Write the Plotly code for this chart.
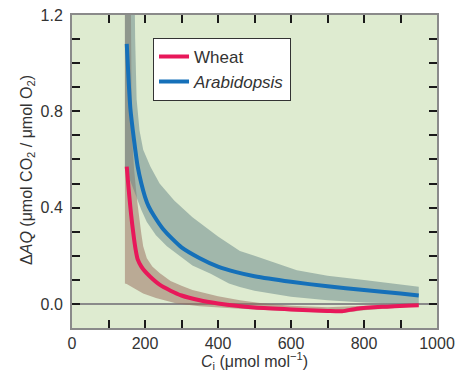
import plotly.graph_objects as go

# ---- data ----
wheat_ci = [150, 155, 160, 165, 170, 175, 180, 190, 200, 215, 240, 270, 300, 350, 400,
            450, 500, 600, 700, 740, 780, 850, 950]
wheat_dq = [0.57, 0.48, 0.40, 0.33, 0.27, 0.22, 0.185, 0.155, 0.135, 0.112, 0.08, 0.055,
            0.035, 0.015, 0.002, -0.008, -0.015, -0.023, -0.029, -0.03, -0.02, -0.012, -0.005]

arab_ci = [150, 155, 160, 170, 180, 190, 200, 210, 225, 250, 275, 300, 350, 400, 450,
           500, 600, 700, 800, 900, 950]
arab_dq = [1.08, 0.93, 0.81, 0.68, 0.57, 0.50, 0.445, 0.405, 0.365, 0.31, 0.27, 0.235,
           0.19, 0.155, 0.132, 0.115, 0.092, 0.073, 0.058, 0.043, 0.035]

wheat_band_up_ci = [145, 160, 163, 166, 170, 175, 180, 185, 190, 195, 205, 220, 240, 270,
                    300, 330, 400, 460, 520, 600, 700, 800, 950]
wheat_band_up = [1.5, 1.5, 0.9, 0.66, 0.56, 0.48, 0.41, 0.35, 0.29, 0.24, 0.19, 0.155,
                 0.128, 0.095, 0.075, 0.058, 0.032, 0.015, 0.003, -0.008, -0.014, -0.008, -0.001]
wheat_band_lo_ci = [145, 150, 170, 195, 230, 287, 350, 460, 600, 700, 740, 800, 950]
wheat_band_lo = [0.085, 0.083, 0.065, 0.043, 0.025, 0.002, -0.01, -0.02, -0.03, -0.037,
                 -0.038, -0.026, -0.01]

arab_band_up_ci = [145, 170, 173, 177, 185, 195, 215, 240, 280, 330, 400, 460, 500, 616,
                   700, 800, 950]
arab_band_up = [1.5, 1.5, 1.1, 0.85, 0.72, 0.64, 0.57, 0.50, 0.43, 0.36, 0.28, 0.22, 0.2,
                0.14, 0.117, 0.099, 0.071]
arab_band_lo_ci = [145, 155, 165, 175, 190, 205, 230, 260, 290, 330, 380, 430, 460, 500,
                   600, 700, 800, 950]
arab_band_lo = [0.56, 0.53, 0.49, 0.45, 0.39, 0.34, 0.285, 0.24, 0.205, 0.16, 0.125, 0.085,
                0.07, 0.055, 0.03, 0.015, 0.006, 0.0]

series_names = ["Wheat", "<i>Arabidopsis</i>"]
x_title = "<i>C</i><sub>i</sub> (μmol mol<sup>−1</sup>)"
y_title = "Δ<i>AQ</i> (μmol CO<sub>2</sub> / μmol O<sub>2</sub>)"

# ---- styles ----
BG = "#deebd0"
RED = "#e8185a"
BLUE = "#1570b9"
WHEAT_FILL = "rgba(150,105,90,0.50)"
ARAB_FILL = "rgba(100,132,134,0.50)"
TXT = "#333333"

fig = go.Figure()


def band(x_up, y_up, x_lo, y_lo, color):
    xs = list(x_up) + list(reversed(x_lo))
    ys = list(y_up) + list(reversed(y_lo))
    return go.Scatter(x=xs, y=ys, fill="toself", fillcolor=color, mode="none",
                      line=dict(width=0), showlegend=False, hoverinfo="skip")


fig.add_trace(band(wheat_band_up_ci, wheat_band_up, wheat_band_lo_ci, wheat_band_lo, WHEAT_FILL))
fig.add_trace(band(arab_band_up_ci, arab_band_up, arab_band_lo_ci, arab_band_lo, ARAB_FILL))

fig.add_trace(go.Scatter(x=wheat_ci, y=wheat_dq, mode="lines", name=series_names[0],
                         line=dict(color=RED, width=4, shape="spline", smoothing=0.6)))
fig.add_trace(go.Scatter(x=arab_ci, y=arab_dq, mode="lines", name=series_names[1],
                         line=dict(color=BLUE, width=4, shape="spline", smoothing=0.6)))

axis_common = dict(
    ticks="inside", ticklen=8, tickwidth=2, tickcolor="#1a1a1a",
    showline=True, linecolor="#8a8a8a", linewidth=2, mirror="ticks",
    showgrid=False,
    tickfont=dict(size=16, color=TXT),
)

fig.update_xaxes(
    range=[0, 1000], tick0=0, dtick=200, zeroline=False,
    minor=dict(dtick=100, tick0=0, ticks="inside", ticklen=8, tickwidth=2, tickcolor="#1a1a1a"),
    title=dict(text=x_title, font=dict(size=16, color=TXT), standoff=4),
    **axis_common,
)
fig.update_yaxes(
    range=[-0.1, 1.2], tick0=0, dtick=0.4, tickformat=".1f",
    zeroline=True, zerolinecolor="#8a8a8a", zerolinewidth=2,
    minor=dict(dtick=0.1, tick0=0, ticks="inside", ticklen=8, tickwidth=2, tickcolor="#1a1a1a"),
    ticklabelstandoff=4,
    **axis_common,
)

fig.add_annotation(text=y_title, xref="paper", yref="paper", x=-0.1205, y=0.505,
                   xanchor="center", yanchor="middle", textangle=-90, showarrow=False,
                   font=dict(size=16, color=TXT))

fig.update_layout(
    width=470, height=372,
    margin=dict(l=72, r=33, t=15, b=44, autoexpand=False),
    paper_bgcolor="white", plot_bgcolor=BG,
    font=dict(family="Liberation Sans, Arial, sans-serif", color=TXT),
    legend=dict(x=0.222, y=0.927, xanchor="left", yanchor="top",
                bgcolor="white", bordercolor="#333333", borderwidth=1,
                font=dict(size=17, color=TXT), tracegroupgap=0),
    showlegend=True,
)

fig.write_html("out.html", config={"displayModeBar": False},
               post_script="document.body.style.margin='0';document.body.style.padding='0';")
